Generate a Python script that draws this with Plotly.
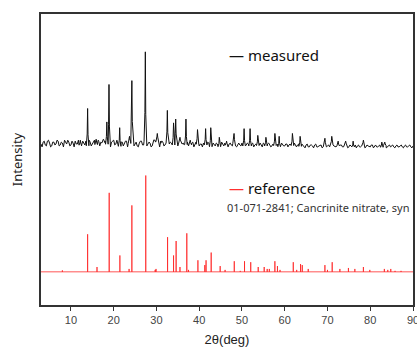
import numpy as np
import plotly.graph_objects as go

# ---------------- data ----------------
# measured pattern: baseline noise read every 0.25 deg from 3 to 90 (relative units)
noise_start = 3.0
noise_step = 0.5
# values at 3.0, 3.5, ..., 90.0
noise = [
    4, 6, 3, 7, 5, 2, 6, 4, 7, 3,
    5, 8, 4, 6, 3, 5, 7, 4, 6, 2,
    5, 7, 3, 6, 4, 8, 5, 3, 6, 4,
    7, 5, 3, 6, 8, 4, 5, 2, 6, 4,
    7, 3, 5, 6, 4, 2, 5, 7, 3, 6,
    4, 5, 2, 6, 3, 5, 7, 4, 3, 6,
    4, 5, 3, 6, 2, 5, 4, 3, 5, 2,
    4, 6, 3, 5, 2, 4, 5, 3, 6, 2,
    4, 3, 5, 2, 4, 3, 5, 2, 4, 3,
    5, 2, 4, 3, 5, 2, 3, 4, 2, 5,
    3, 4, 2, 3, 5, 2, 4, 3, 2, 4,
    3, 2, 4, 3, 2, 4, 3, 2, 4, 2,
    3, 2, 4, 2, 3, 1, 3, 2, 3, 1,
    2, 3, 1, 3, 2, 1, 3, 2, 1, 2,
    3, 1, 2, 3, 1, 2, 1, 3, 2, 1,
    2, 3, 1, 2, 1, 3, 2, 1, 2, 3,
    1, 2, 1, 3, 2, 1, 2, 1, 2, 1,
    2, 1, 2, 1, 2,
]
# values at 3.25, 3.75, ..., 89.75
noise_mid = [
    1, 7, 2, 8, 1, 6, 3, 8, 2, 6,
    1, 5, 8, 2, 7, 1, 4, 8, 2, 7,
    3, 1, 8, 2, 6, 1, 7, 2, 5, 8,
    2, 6, 1, 7, 3, 8, 1, 6, 2, 7,
    1, 5, 8, 2, 6, 1, 7, 3, 8, 2,
    6, 1, 7, 2, 8, 1, 5, 2, 7, 1,
    6, 2, 5, 1, 6, 2, 5, 1, 6, 2,
    5, 1, 6, 2, 4, 1, 6, 2, 5, 1,
    5, 2, 4, 1, 6, 2, 4, 1, 5, 2,
    4, 1, 5, 2, 4, 1, 5, 2, 4, 1,
    4, 2, 5, 1, 4, 2, 5, 1, 4, 2,
    4, 1, 5, 2, 4, 1, 4, 2, 5, 1,
    4, 1, 3, 0, 4, 1, 3, 0, 4, 1,
    3, 0, 3, 1, 3, 0, 3, 1, 3, 0,
    3, 1, 3, 0, 3, 1, 3, 0, 3, 1,
    3, 0, 3, 1, 3, 0, 3, 1, 3, 0,
    3, 0, 3, 1, 3, 0, 3, 1, 3, 0,
    3, 1, 3, 0,
]

# measured peaks (2theta, relative intensity)
meas_pos = [12.2, 13.9, 15.9, 16.4, 17.6, 18.4, 18.9, 21.4, 23.7, 24.25, 27.4,
            29.5, 30.2, 31.3, 32.55, 34.0, 34.5, 35.5, 36.9, 37.9, 39.6, 41.5,
            42.7, 44.7, 46.4, 48.15, 50.5, 51.9, 53.7, 55.6, 57.7, 58.7, 61.8,
            63.6, 69.4, 71.0, 72.5, 74.25, 76.0, 78.4, 82.7, 83.4]
meas_int = [8, 41, 9, 8, 9, 27, 66, 21, 12, 70, 100,
            8, 15, 7, 39, 26, 30, 11, 30, 8, 19, 20,
            21, 11, 7, 15, 20, 20, 13, 11, 15, 12, 15,
            12, 10, 12, 7, 7, 7, 8, 6, 6]

# reference pattern 01-071-2841 (2theta, relative intensity)
ref_pos = [8.0, 13.9, 16.1, 18.95, 21.45, 23.6, 24.25, 27.5, 29.7, 29.9, 32.6,
           34.0, 34.6, 35.5, 37.1, 37.5, 39.7, 41.3, 41.6, 42.8, 44.9, 46.05,
           48.2, 49.6, 50.6, 52.05, 53.8, 55.2, 55.9, 56.4, 57.7, 58.3, 58.9,
           62.0, 62.8, 63.7, 64.1, 65.5, 69.4, 70.0, 71.1, 72.9, 74.9, 76.4,
           78.4, 79.9, 83.3, 84.1, 84.8, 85.8, 87.2]
ref_int = [1.5, 39, 5, 82, 17, 3, 69, 100, 2, 3, 36,
           17, 32, 5, 40, 2, 12, 7, 12, 20, 6, 2,
           11, 1, 11, 10, 5, 5, 3, 3, 11, 6, 2,
           10, 2, 8, 7, 3, 7, 2, 10, 3, 4, 3,
           5, 2, 3, 2, 3, 1, 1]

x_ticks = [10, 20, 30, 40, 50, 60, 70, 80, 90]
x_range = [3, 90]

# ---------------- styling / layout constants ----------------
MEAS_OFFSET = 54.0   # vertical offset of measured pattern (axis units)
MEAS_SCALE = 0.330
REF_OFFSET = 11.4
REF_SCALE = 0.331
PEAK_FOOT = 0.3
PEAK_SHOULDER = 0.1

# build measured trace (interleave the two noise readings)
nx1 = noise_start + noise_step * np.arange(len(noise))
nx2 = noise_start + noise_step / 2 + noise_step * np.arange(len(noise_mid))
nx = np.concatenate([nx1, nx2])
ny = np.concatenate([np.array(noise, float), np.array(noise_mid, float)])
o = np.argsort(nx)
nx, ny = nx[o], ny[o]
mask = np.ones(len(nx), dtype=bool)
for p in meas_pos:
    mask &= np.abs(nx - p) > PEAK_FOOT
px = list(nx[mask])
py = list(ny[mask])
for p, h in zip(meas_pos, meas_int):
    b = float(np.interp(p, nx, ny))
    px += [p - PEAK_FOOT, p - PEAK_SHOULDER, p, p + PEAK_SHOULDER, p + PEAK_FOOT]
    py += [b, b + 0.3 * h, h, b + 0.28 * h, b]
order = np.argsort(px, kind="stable")
mx = np.array(px)[order]
my = MEAS_OFFSET + MEAS_SCALE * np.array(py)[order]

# build reference stick trace
rx = [x_range[0]]
ry = [0.0]
for p, h in zip(ref_pos, ref_int):
    rx += [p, p, p]
    ry += [0.0, h, 0.0]
rx.append(x_range[1])
ry.append(0.0)
ry = REF_OFFSET + REF_SCALE * np.array(ry)

fig = go.Figure()
fig.add_trace(go.Scatter(x=mx, y=my, mode="lines",
                         line=dict(color="#111111", width=1),
                         showlegend=False, hoverinfo="skip"))
fig.add_trace(go.Scatter(x=rx, y=ry, mode="lines",
                         line=dict(color="rgba(255,30,30,0.75)", width=1),
                         showlegend=False, hoverinfo="skip"))

legend_font = dict(family="Noto Sans, Open Sans, sans-serif", size=15, color="#111111")
fig.add_annotation(xref="paper", yref="paper", x=0.50, y=0.859, xanchor="left",
                   yanchor="middle", showarrow=False,
                   text="<span style='color:#111111'>—</span>&nbsp;measured",
                   font=legend_font)
fig.add_annotation(xref="paper", yref="paper", x=0.50, y=0.403, xanchor="left",
                   yanchor="middle", showarrow=False,
                   text="<span style='color:#ff3030'>—</span>&nbsp;reference",
                   font=legend_font)
fig.add_annotation(xref="paper", yref="paper", x=0.495, y=0.334, xanchor="left",
                   yanchor="middle", showarrow=False,
                   text="01-071-2841; Cancrinite nitrate, syn",
                   font=dict(family="Noto Sans, Open Sans, sans-serif", size=11,
                             color="#333333"))

fig.update_layout(
    width=417, height=347,
    margin=dict(l=41, r=4, t=14, b=42),
    paper_bgcolor="white", plot_bgcolor="white",
    showlegend=False,
)
fig.update_xaxes(
    range=x_range, tickvals=x_ticks, ticktext=[str(t) for t in x_ticks],
    showgrid=False, zeroline=False,
    showline=True, linecolor="#333333", linewidth=1.5, mirror=True,
    ticks="outside", ticklen=4, tickcolor="#333333", tickwidth=1,
    ticklabeloverflow="allow",
    tickfont=dict(family="Liberation Sans, Arial, sans-serif", size=11, color="#444444"),
    title=dict(text="2θ(deg)", standoff=10,
               font=dict(family="Liberation Sans, Arial, sans-serif", size=13, color="#222222")),
    automargin=False,
)
fig.update_yaxes(
    range=[0, 100], showticklabels=False, ticks="",
    showgrid=False, zeroline=False,
    showline=True, linecolor="#333333", linewidth=1.5, mirror=True,
    title=dict(text="Intensity", standoff=14,
               font=dict(family="Noto Sans, Open Sans, sans-serif", size=13, color="#222222")),
    automargin=False,
)

fig.write_html("out.html", config={"displayModeBar": False},
               post_script="document.body.style.margin='0px';document.body.style.overflow='hidden';")
